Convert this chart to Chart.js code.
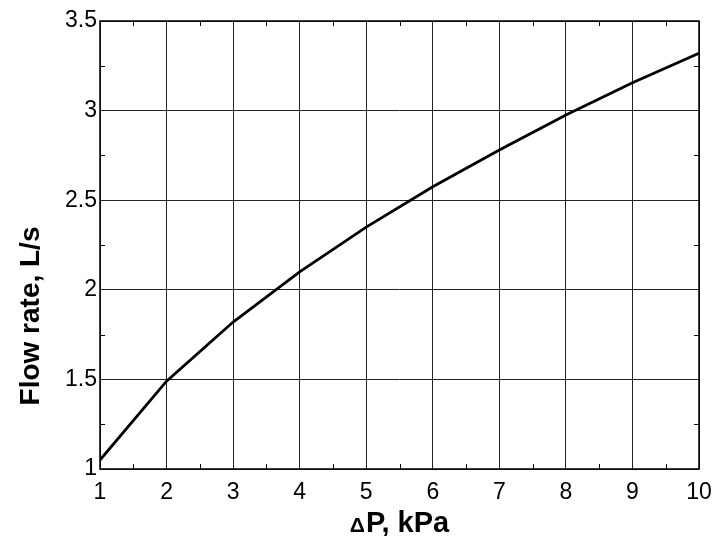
<!DOCTYPE html>
<html lang="en">
<head>
  <meta charset="UTF-8">
  <title>Flow rate vs pressure drop</title>
  <script src="https://cdn.jsdelivr.net/npm/chart.js"></script>
  <style>
    body {
      margin: 0;
      padding: 0;
      background: #fff;
    }

    .chart-wrapper {
      width: 717px;
      height: 536px;
    }
  </style>
</head>
<body>
  <div class="chart-wrapper"><canvas id="flowChart" width="717" height="536"></canvas></div>

  <script>
    // Data
    const pressureKPa = [1, 2, 3, 4, 5, 6, 7, 8, 9, 10];
    const flowRate = [1.05, 1.49, 1.82, 2.10, 2.35, 2.575, 2.78, 2.975, 3.155, 3.32];
    const xTickValues = [1, 2, 3, 4, 5, 6, 7, 8, 9, 10];
    const yTickValues = [1, 1.5, 2, 2.5, 3, 3.5];
    const xMinorTicks = [1.5, 2.5, 3.5, 4.5, 5.5, 6.5, 7.5, 8.5, 9.5];
    const yMinorTicks = [1.25, 1.75, 2.25, 2.75, 3.25];
    const xTitleDelta = "Δ";
    const xTitleRest = "P, kPa";
    const yTitle = "Flow rate, L/s";

    const FONT = '"Liberation Sans", Arial, sans-serif';

    // minor inside ticks on all four sides + axis titles
    const decorPlugin = {
      id: 'decor',
      afterDraw(chart) {
        const ctx = chart.ctx;
        const area = chart.chartArea;
        const xs = chart.scales.x;
        const ys = chart.scales.y;
        const len = 5;
        ctx.save();
        ctx.strokeStyle = '#000';
        ctx.lineWidth = 1;
        ctx.beginPath();
        xMinorTicks.forEach(v => {
          const px = Math.round(xs.getPixelForValue(v)) + 0.5;
          ctx.moveTo(px, area.bottom);
          ctx.lineTo(px, area.bottom - len);
          ctx.moveTo(px, area.top);
          ctx.lineTo(px, area.top + len);
        });
        yMinorTicks.forEach(v => {
          const py = Math.round(ys.getPixelForValue(v)) + 0.5;
          ctx.moveTo(area.left, py);
          ctx.lineTo(area.left + len, py);
          ctx.moveTo(area.right, py);
          ctx.lineTo(area.right - len, py);
        });
        ctx.stroke();

        // outer box
        ctx.lineWidth = 1.5;
        ctx.strokeRect(area.left, area.top, area.right - area.left, area.bottom - area.top);

        // x title with smaller delta
        ctx.fillStyle = '#000';
        ctx.textBaseline = 'alphabetic';
        ctx.textAlign = 'left';
        ctx.font = 'bold 21px ' + FONT;
        const w1 = ctx.measureText(xTitleDelta).width;
        ctx.font = 'bold 29px ' + FONT;
        const w2 = ctx.measureText(xTitleRest).width;
        const cx = (area.left + area.right) / 2;
        let x0 = cx - (w1 + w2 + 1) / 2;
        ctx.font = 'bold 21px ' + FONT;
        ctx.fillText(xTitleDelta, x0, 532);
        ctx.font = 'bold 29px ' + FONT;
        ctx.fillText(xTitleRest, x0 + w1 + 1, 532);

        // y title
        ctx.translate(31, 316);
        ctx.rotate(-Math.PI / 2);
        ctx.textAlign = 'center';
        ctx.textBaseline = 'middle';
        ctx.font = 'bold 28px ' + FONT;
        ctx.fillText(yTitle, 0, 0);
        ctx.restore();
      }
    };

    const ctx = document.getElementById('flowChart').getContext('2d');
    new Chart(ctx, {
      type: 'line',
      data: {
        datasets: [{
          data: pressureKPa.map((x, i) => ({ x: x, y: flowRate[i] })),
          borderColor: '#000',
          borderWidth: 2.8,
          pointRadius: 0,
          tension: 0,
          fill: false
        }]
      },
      options: {
        responsive: false,
        animation: false,
        layout: {
          padding: { left: 0, top: 21, right: 18, bottom: 0 }
        },
        scales: {
          x: {
            type: 'linear',
            min: 1,
            max: 10,
            afterBuildTicks: axis => { axis.ticks = xTickValues.map(v => ({ value: v })); },
            afterFit: axis => {
              axis.height = 67;
              axis.paddingLeft = 0;
              axis.paddingRight = 0;
            },
            ticks: {
              color: '#000',
              padding: 10,
              maxRotation: 0,
              font: { family: FONT, size: 23 },
              callback: v => String(v)
            },
            grid: { color: '#222', lineWidth: 1, drawTicks: false },
            border: { display: false }
          },
          y: {
            type: 'linear',
            min: 1,
            max: 3.5,
            afterBuildTicks: axis => { axis.ticks = yTickValues.map(v => ({ value: v })); },
            afterFit: axis => {
              axis.width = 100;
              axis.paddingTop = 0;
              axis.paddingBottom = 0;
            },
            ticks: {
              color: '#000',
              padding: 3,
              font: { family: FONT, size: 23 },
              callback: v => String(v)
            },
            grid: { color: '#222', lineWidth: 1, drawTicks: false },
            border: { display: false }
          }
        },
        plugins: {
          legend: { display: false },
          tooltip: { enabled: false }
        }
      },
      plugins: [decorPlugin]
    });
  </script>
</body>
</html>
